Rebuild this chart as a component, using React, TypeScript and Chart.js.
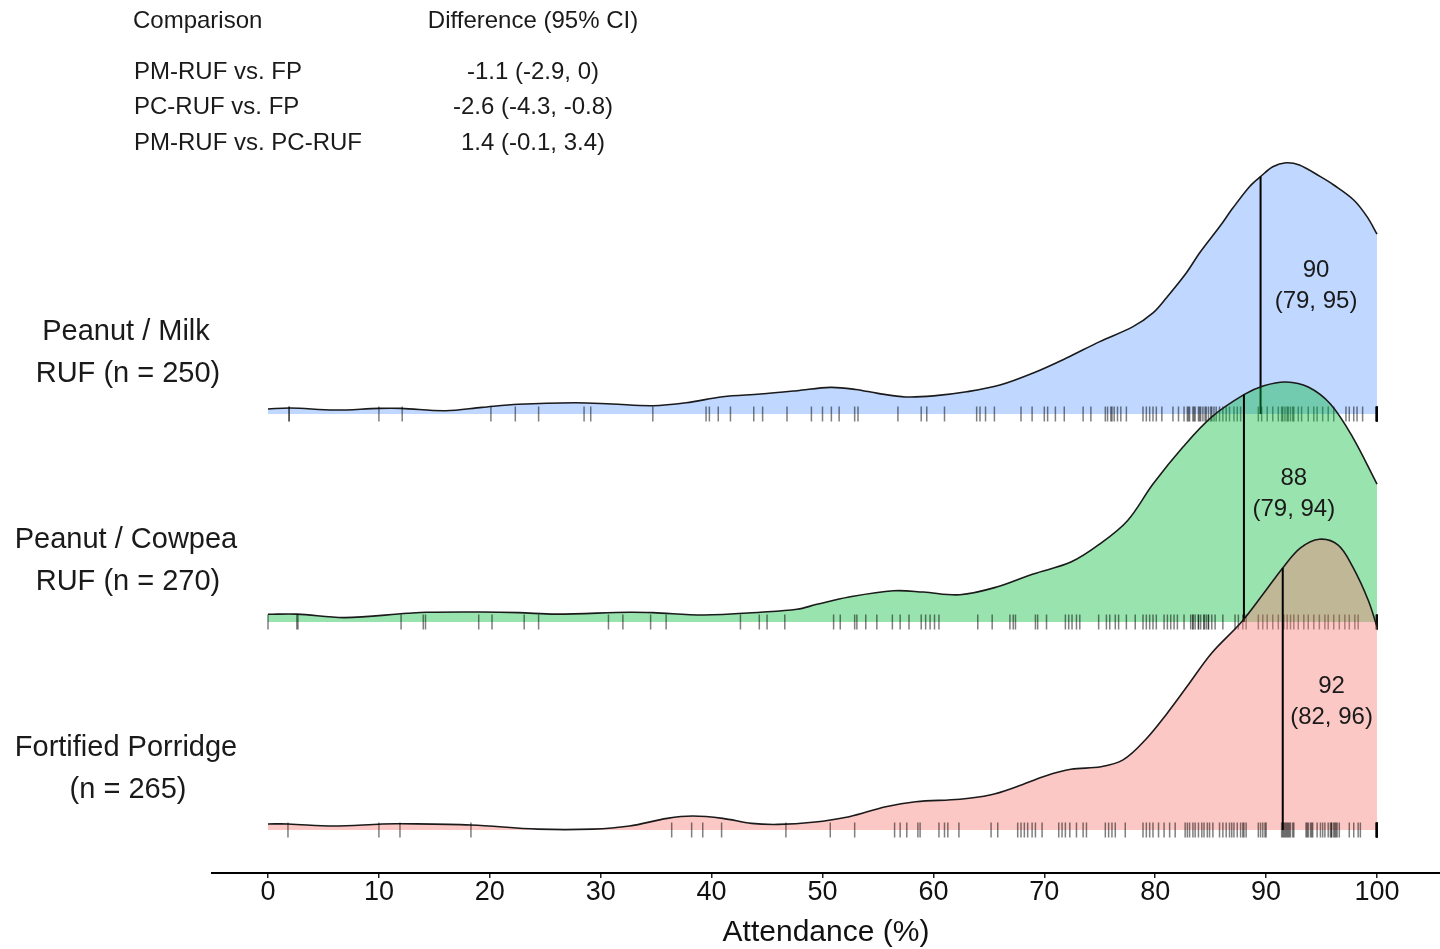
import React, { useEffect, useRef } from "react";
import { Chart, registerables } from "chart.js";

Chart.register(...registerables);

const FONT = '"Liberation Sans", Arial, sans-serif';

// ---- Data ----
const X_TICKS = [0, 10, 20, 30, 40, 50, 60, 70, 80, 90, 100];
const AXIS_TITLE = "Attendance (%)";

const GROUP_LABELS = [
  ["Peanut / Milk", "RUF (n = 250)"],
  ["Peanut / Cowpea", "RUF (n = 270)"],
  ["Fortified Porridge", "(n = 265)"],
];
const ROW_BASE = [2, 1, 0];

// density curves (height in units of row spacing)
const PM_X = [0, 2, 6, 10, 12, 16, 19.3, 22.6, 27.7, 31, 34.7, 37.7, 41, 44.4, 47.7, 50.7, 53, 55, 57.5, 60, 63, 66, 69, 72, 75, 78, 79.8, 81, 82.8, 84, 85.8, 87, 88.5, 89.5, 90.6, 91.8, 93, 94.9, 96.1, 97.9, 99.1, 100];
const PM_DENS = [0.024, 0.029, 0.019, 0.027, 0.027, 0.016, 0.032, 0.047, 0.054, 0.048, 0.040, 0.054, 0.083, 0.096, 0.112, 0.128, 0.118, 0.099, 0.082, 0.087, 0.107, 0.139, 0.197, 0.269, 0.348, 0.420, 0.486, 0.558, 0.678, 0.774, 0.900, 0.990, 1.093, 1.141, 1.189, 1.208, 1.197, 1.141, 1.101, 1.029, 0.949, 0.865];

const PC_X = [0, 2.6, 6.9, 12.6, 14.3, 19.3, 22.6, 26, 32.6, 34.7, 39.3, 44.4, 47.7, 49.5, 52.4, 56.4, 59.1, 62.4, 65.7, 69, 72.4, 75, 77.5, 79.8, 82.5, 85.1, 88, 89.8, 91.8, 93.8, 95.8, 97.8, 100];
const PC_DENS = [0.037, 0.038, 0.021, 0.042, 0.047, 0.048, 0.045, 0.038, 0.047, 0.045, 0.034, 0.047, 0.061, 0.085, 0.120, 0.150, 0.144, 0.131, 0.168, 0.231, 0.288, 0.375, 0.487, 0.663, 0.841, 0.986, 1.093, 1.136, 1.154, 1.130, 1.048, 0.889, 0.663];

const FP_X = [0, 1.8, 5.9, 10.3, 12, 18.3, 24.3, 29.3, 32.6, 36, 38.3, 41, 43.6, 46, 49.1, 52.4, 55.7, 58.4, 62.4, 65.1, 67.5, 70.1, 72.4, 75.1, 77.1, 79.1, 81.1, 83.1, 85.1, 87.8, 89.8, 91.5, 93.1, 94.8, 96.5, 97.8, 99.2, 100];
const FP_DENS = [0.029, 0.029, 0.019, 0.029, 0.030, 0.024, 0.004, 0.004, 0.019, 0.056, 0.067, 0.056, 0.032, 0.027, 0.037, 0.064, 0.112, 0.136, 0.148, 0.168, 0.208, 0.260, 0.292, 0.304, 0.337, 0.433, 0.563, 0.707, 0.851, 1.001, 1.139, 1.260, 1.356, 1.398, 1.370, 1.266, 1.106, 0.977];

// rug (individual attendance values)
const PM_RUG = [1.9, 1.9, 10.0, 12.1, 20.1, 22.3, 24.4, 28.5, 29.1, 34.7, 39.5, 39.8, 40.6, 41.7, 43.8, 44.6, 46.8, 49.0, 50.0, 50.8, 51.5, 52.9, 53.2, 56.8, 58.9, 59.4, 61.0, 63.9, 64.2, 64.7, 65.5, 67.9, 68.9, 70.0, 70.3, 71.0, 71.8, 73.5, 74.2, 75.5, 75.7, 76.0, 76.1, 76.3, 76.6, 76.9, 77.4, 78.9, 79.2, 79.5, 79.8, 80.1, 80.6, 81.6, 82.1, 82.6, 82.9, 83.0, 83.1, 83.4, 83.5, 83.6, 83.9, 84.0, 84.1, 84.3, 84.5, 84.6, 84.8, 85.0, 85.1, 85.3, 85.5, 85.8, 86.1, 86.4, 86.7, 87.1, 87.4, 87.7, 88.0, 89.3, 89.6, 90.1, 90.6, 91.1, 91.4, 91.7, 91.9, 92.2, 92.5, 92.9, 91.5, 92.0, 92.4, 93.2, 93.8, 94.3, 94.6, 95.1, 95.6, 96.1, 97.2, 97.5, 97.9, 98.2, 98.7, 99.9, 99.9, 100, 100, 100, 100, 100, 100, 100, 100];
const PC_RUG = [0.0, 2.6, 2.7, 12.0, 14.0, 14.2, 19.0, 20.2, 23.1, 24.4, 30.7, 32.0, 34.5, 35.9, 42.6, 44.3, 45.0, 46.6, 51.0, 51.6, 52.9, 53.1, 53.9, 54.9, 56.3, 57.0, 57.8, 58.9, 59.3, 59.7, 60.1, 60.5, 64.0, 65.3, 66.9, 67.2, 67.4, 69.2, 69.4, 70.2, 71.9, 72.2, 72.5, 72.9, 73.2, 74.9, 75.6, 75.9, 76.4, 76.7, 77.4, 78.2, 78.9, 79.2, 79.5, 79.8, 80.1, 80.8, 81.1, 81.4, 81.7, 82.0, 82.6, 83.2, 83.4, 83.6, 83.9, 84.1, 84.4, 84.6, 84.8, 85.1, 85.4, 83.4, 83.9, 84.4, 84.8, 86.1, 87.2, 87.5, 87.9, 88.2, 89.3, 89.7, 90.1, 90.6, 91.1, 91.6, 91.9, 92.2, 92.5, 92.9, 93.4, 93.8, 94.3, 94.8, 95.3, 95.6, 96.1, 96.6, 97.1, 97.5, 98.0, 98.3, 99.9, 100, 100, 100, 100, 100, 100];
const FP_RUG = [1.8, 10.0, 11.9, 18.3, 36.4, 38.2, 39.2, 40.9, 46.7, 50.7, 52.9, 56.5, 57.0, 57.6, 58.6, 58.8, 60.5, 61.0, 61.3, 62.3, 65.2, 65.8, 67.6, 67.9, 68.2, 68.5, 68.9, 69.2, 69.8, 71.3, 71.6, 71.9, 72.3, 72.9, 73.5, 73.8, 75.5, 75.8, 76.1, 76.4, 77.3, 78.9, 79.2, 79.5, 79.8, 80.3, 80.8, 81.3, 81.8, 82.7, 82.9, 83.1, 83.4, 83.6, 83.9, 84.2, 84.4, 84.7, 84.9, 85.2, 85.8, 86.1, 86.4, 86.7, 86.9, 87.1, 87.4, 87.7, 87.9, 88.0, 88.2, 89.3, 89.5, 89.7, 89.9, 90.0, 91.4, 91.6, 91.7, 91.9, 92.1, 92.2, 92.4, 92.5, 91.5, 91.8, 92.0, 93.6, 93.8, 94.0, 94.2, 93.7, 94.1, 94.6, 94.9, 95.1, 95.3, 95.6, 95.8, 95.9, 96.1, 96.2, 96.4, 96.6, 95.9, 96.3, 97.5, 97.9, 98.3, 98.5, 99.9, 99.9, 100, 100, 100, 100, 100, 100, 100, 100];

const MEDIANS = [89.5, 88.0, 91.5];
const MEDIAN_TEXT = ["90", "88", "92"];
const CI_TEXT = ["(79, 95)", "(79, 94)", "(82, 96)"];
const LABEL_X = [94.5, 92.5, 95.9];

const TABLE_HEAD = ["Comparison", "Difference (95% CI)"];
const COMPARISONS = ["PM-RUF vs. FP", "PC-RUF vs. FP", "PM-RUF vs. PC-RUF"];
const DIFFERENCES = ["-1.1 (-2.9, 0)", "-2.6 (-4.3, -0.8)", "1.4 (-0.1, 3.4)"];

const FILLS = ["rgba(97,156,255,0.4)", "rgba(0,186,56,0.4)", "rgba(248,118,109,0.4)"];

function interp(xs: number[], ys: number[], x: number): number {
  for (let i = 0; i < xs.length - 1; i++) {
    if (x >= xs[i] && x <= xs[i + 1]) {
      const t = (x - xs[i]) / (xs[i + 1] - xs[i]);
      return ys[i] + t * (ys[i + 1] - ys[i]);
    }
  }
  return ys[ys.length - 1];
}

export default function App() {
  const ref = useRef<HTMLCanvasElement>(null);

  useEffect(() => {
    const canvas = ref.current;
    if (!canvas) return;
    const groups = [
      { xs: PM_X, d: PM_DENS, rug: PM_RUG },
      { xs: PC_X, d: PC_DENS, rug: PC_RUG },
      { xs: FP_X, d: FP_DENS, rug: FP_RUG },
    ];
    const datasets: any[] = [];
    let order = 100;
    groups.forEach((g, i) => {
      const base = ROW_BASE[i];
      datasets.push({
        type: "line",
        data: g.xs.map((x, k) => ({ x, y: base + g.d[k] })),
        fill: { value: base },
        backgroundColor: FILLS[i],
        borderColor: "#1a1a1a",
        borderWidth: 1.6,
        pointRadius: 0,
        tension: 0.35,
        order: order--,
      });
      datasets.push({
        type: "line",
        data: [
          { x: MEDIANS[i], y: base },
          { x: MEDIANS[i], y: base + interp(g.xs, g.d, MEDIANS[i]) },
        ],
        borderColor: "#000",
        borderWidth: 2,
        pointRadius: 0,
        fill: false,
        order: order--,
      });
      datasets.push({
        type: "line",
        data: g.rug.map((v) => ({ x: v, y: base })),
        showLine: false,
        fill: false,
        pointStyle: "line",
        pointRadius: 7.5,
        pointRotation: 90,
        pointBorderColor: "rgba(0,0,0,0.5)",
        pointBorderWidth: 1.5,
        pointBackgroundColor: "rgba(0,0,0,0)",
        order: order--,
      });
    });

    const textPlugin = {
      id: "ridgeTexts",
      afterDraw(chart: any) {
        const ctx = chart.ctx;
        const xs = chart.scales.x;
        const ys = chart.scales.y;
        ctx.save();
        ctx.fillStyle = "#1a1a1a";
        ctx.textBaseline = "middle";
        // table
        ctx.font = `24px ${FONT}`;
        ctx.textAlign = "left";
        ctx.fillText(TABLE_HEAD[0], 133, 21);
        ctx.textAlign = "center";
        ctx.fillText(TABLE_HEAD[1], 533, 21);
        const rowY = [72, 107.5, 143];
        COMPARISONS.forEach((c, i) => {
          ctx.textAlign = "left";
          ctx.fillText(c, 134, rowY[i]);
          ctx.textAlign = "center";
          ctx.fillText(DIFFERENCES[i], 533, rowY[i]);
        });
        // group labels
        ctx.font = `29px ${FONT}`;
        ctx.textAlign = "center";
        GROUP_LABELS.forEach((lines, i) => {
          const by = ys.getPixelForValue(ROW_BASE[i]);
          ctx.fillText(lines[0], 126, by - 82);
          ctx.fillText(lines[1], 128, by - 40.5);
        });
        // median labels
        ctx.font = `24px ${FONT}`;
        MEDIANS.forEach((m, i) => {
          const by = ys.getPixelForValue(ROW_BASE[i]);
          const lx = xs.getPixelForValue(LABEL_X[i]);
          ctx.fillText(MEDIAN_TEXT[i], lx, by - 144);
          ctx.fillText(CI_TEXT[i], lx, by - 113);
        });
        ctx.restore();
      },
    };

    const chart = new Chart(canvas, {
      type: "line",
      data: { datasets },
      options: {
        animation: false,
        responsive: false,
        devicePixelRatio: 1,
        events: [],
        layout: { autoPadding: false, padding: { left: 212, right: 0, top: 0, bottom: 1 } },
        plugins: { legend: { display: false }, tooltip: { enabled: false } },
        scales: {
          x: {
            type: "linear",
            position: "bottom",
            min: -5.05,
            max: 105.68,
            afterBuildTicks: (scale: any) => {
              scale.ticks = X_TICKS.map((v) => ({ value: v }));
            },
            afterFit: (scale: any) => {
              scale.paddingLeft = 0;
              scale.paddingRight = 0;
            },
            ticks: {
              color: "#111",
              padding: 1,
              font: { family: FONT, size: 27, lineHeight: 1 },
              callback: (v: any) => String(v),
              maxRotation: 0,
              autoSkip: false,
            },
            grid: {
              display: true,
              drawOnChartArea: false,
              drawTicks: true,
              tickLength: 5,
              color: "#222",
              lineWidth: 1.5,
            },
            border: { display: true, color: "#000", width: 2 },
            title: {
              display: true,
              text: AXIS_TITLE,
              color: "#111",
              font: { family: FONT, size: 30, lineHeight: 1 },
              padding: { top: 11, bottom: 0 },
            },
          },
          y: {
            type: "linear",
            display: false,
            min: -0.2067,
            max: 3.9904,
          },
        },
      },
      plugins: [textPlugin],
    } as any);
    return () => chart.destroy();
  }, []);

  return (
    <div style={{ position: "absolute", left: 0, top: 0, width: 1440, height: 949, background: "#fff" }}>
      <canvas ref={ref} width={1440} height={949} style={{ display: "block" }} />
    </div>
  );
}
